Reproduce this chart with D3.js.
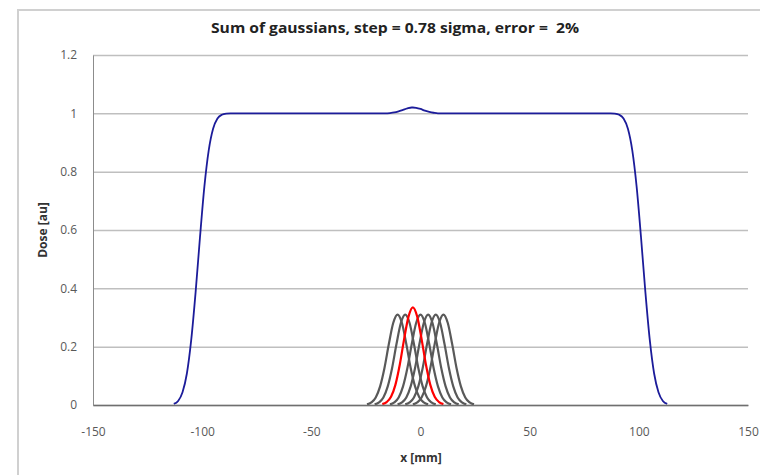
<!DOCTYPE html>
<html>
<head>
<meta charset="utf-8">
<script src="https://cdn.jsdelivr.net/npm/d3@7/dist/d3.min.js"></script>
<style>
  html, body { margin: 0; padding: 0; background: #fff; }
  svg { display: block; }
  text { font-family: "Open Sans", "Liberation Sans", sans-serif; }
</style>
</head>
<body>
<svg id="chart" width="760" height="475"></svg>
<script>
// Summed dose profile [au] across x [mm]
const sumX = [-113, -111, -109, -107, -105, -103, -101, -99, -97, -95, -93, -91, -89, -87,
  -16, -14, -12, -10, -8, -6, -4, -3.5, -2, 0, 2, 4, 6, 8,
  87, 89, 91, 93, 95, 97, 99, 101, 103, 105, 107, 109, 111, 113];
const sumY = [0.004, 0.014, 0.044, 0.108, 0.224, 0.387, 0.575, 0.748, 0.873, 0.947, 0.982, 0.995, 0.999, 1.0,
  1.0, 1.001, 1.003, 1.007, 1.012, 1.017, 1.020, 1.020, 1.019, 1.015, 1.009, 1.005, 1.002, 1.0,
  1.0, 0.999, 0.995, 0.982, 0.947, 0.873, 0.748, 0.575, 0.387, 0.224, 0.108, 0.044, 0.014, 0.004];

// Single pencil-beam profile: offset from its centre [mm] and dose [au]
const beamOffset = [-14, -12, -10, -8, -6, -4, -2, 0, 2, 4, 6, 8, 10, 12, 14];
const grayDose   = [0.002, 0.009, 0.026, 0.064, 0.127, 0.209, 0.281, 0.310, 0.281, 0.209, 0.127, 0.064, 0.026, 0.009, 0.002];
const redDose    = [0.003, 0.010, 0.028, 0.069, 0.138, 0.226, 0.303, 0.335, 0.303, 0.226, 0.138, 0.069, 0.028, 0.010, 0.003];

// Beam centres [mm]
const grayCentres = [-10.5, -7, 0, 3.5, 7, 10.5];
const redCentre = -3.5;

const xTicks = [-150, -100, -50, 0, 50, 100, 150];
const yTicks = [0, 0.2, 0.4, 0.6, 0.8, 1, 1.2];

const titleText = "Sum of gaussians, step = 0.78 sigma, error =  2%";
const xTitle = "x [mm]";
const yTitle = "Dose [au]";

const svg = d3.select("#chart");

// chart frame
svg.append("rect")
  .attr("x", 18).attr("y", 10)
  .attr("width", 800).attr("height", 500)
  .attr("fill", "#fff")
  .attr("stroke", "#d0d0d0")
  .attr("stroke-width", 2);

const x = d3.scaleLinear().domain([-150, 150]).range([93, 748]);
const y = d3.scaleLinear().domain([0, 1.2]).range([405, 55]);
const plain = d => String(d);

// horizontal gridlines
svg.append("g")
  .attr("transform", `translate(${x.range()[0]},0)`)
  .call(d3.axisLeft(y).tickValues(yTicks).tickSize(-(x.range()[1] - x.range()[0])).tickFormat(""))
  .call(g => g.select(".domain").remove())
  .call(g => g.selectAll(".tick line").attr("stroke", "#bfbfbf").attr("stroke-width", 1.5));

// y axis line and labels
svg.append("g")
  .attr("transform", `translate(${x.range()[0]},0)`)
  .call(d3.axisLeft(y).tickValues(yTicks).tickSize(0).tickPadding(16).tickFormat(plain))
  .call(g => g.select(".domain").attr("stroke", "#8c8c8c").attr("stroke-width", 1))
  .call(g => g.selectAll("text").attr("fill", "#595959").attr("font-size", 12));

const line = d3.line()
  .x(d => x(d[0]))
  .y(d => y(d[1]))
  .curve(d3.curveMonotoneX);

// summed profile
svg.append("path")
  .datum(sumX.map((v, i) => [v, sumY[i]]))
  .attr("fill", "none")
  .attr("stroke", "#1c1c9a")
  .attr("stroke-width", 1.8)
  .attr("d", line);

// individual beams
grayCentres.forEach(c => {
  svg.append("path")
    .datum(beamOffset.map((o, i) => [c + o, grayDose[i]]))
    .attr("fill", "none")
    .attr("stroke", "#595959")
    .attr("stroke-width", 2.2)
    .attr("d", line);
});

svg.append("path")
  .datum(beamOffset.map((o, i) => [redCentre + o, redDose[i]]))
  .attr("fill", "none")
  .attr("stroke", "#ff0000")
  .attr("stroke-width", 2.2)
  .attr("d", line);

// x axis line and labels (drawn over the curve feet)
svg.append("g")
  .attr("transform", `translate(0,${y(0)})`)
  .call(d3.axisBottom(x).tickValues(xTicks).tickSize(0).tickPadding(22).tickFormat(plain))
  .call(g => g.select(".domain").attr("stroke", "#6f6f6f").attr("stroke-width", 1.6))
  .call(g => g.selectAll("text").attr("fill", "#595959").attr("font-size", 12));

// titles
svg.append("text")
  .attr("x", 395).attr("y", 33)
  .attr("text-anchor", "middle")
  .attr("font-size", 13.5)
  .attr("font-weight", "bold")
  .attr("fill", "#222")
  .style("white-space", "pre")
  .attr("textLength", 368)
  .attr("lengthAdjust", "spacingAndGlyphs")
  .text(titleText);

svg.append("text")
  .attr("x", 421).attr("y", 462)
  .attr("text-anchor", "middle")
  .attr("font-size", 12)
  .attr("font-weight", "bold")
  .attr("fill", "#333")
  .text(xTitle);

svg.append("text")
  .attr("transform", "translate(47,230) rotate(-90)")
  .attr("text-anchor", "middle")
  .attr("font-size", 12)
  .attr("font-weight", "bold")
  .attr("fill", "#333")
  .text(yTitle);
</script>
</body>
</html>
